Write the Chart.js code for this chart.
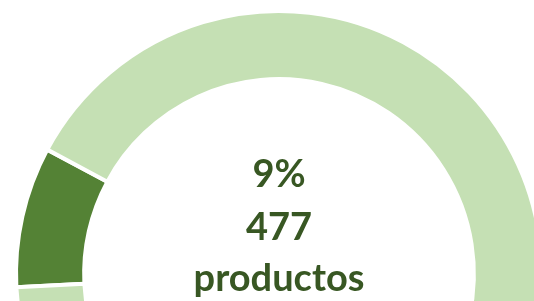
<!DOCTYPE html>
<html>
<head>
<meta charset="utf-8">
<script src="https://cdn.jsdelivr.net/npm/chart.js@4/dist/chart.umd.min.js"></script>
<style>
  html, body { margin: 0; padding: 0; width: 534px; height: 301px; overflow: hidden; background: #ffffff; }
  #wrap { position: absolute; left: -1px; top: -6px; width: 560px; height: 560px; }
</style>
</head>
<body>
<div id="wrap"><canvas id="c" width="560" height="560"></canvas></div>
<script>
const categories = ['Productos', 'Resto'];
const values = [477, 5040];
const colors = ['#548235', '#C5E0B4'];
const centerLines = ['9%', '477', 'productos'];

const centerText = {
  id: 'centerText',
  afterDraw(chart) {
    const meta = chart.getDatasetMeta(0);
    const arc = meta.data[0];
    const cx = arc.x, cy = arc.y;
    const ctx = chart.ctx;
    ctx.save();
    ctx.fillStyle = '#385723';
    ctx.textAlign = 'center';
    ctx.textBaseline = 'alphabetic';
    ctx.font = 'bold 38px Lato, "Open Sans", sans-serif';
    const offs = [-87, -34, 17];
    centerLines.forEach((t, i) => ctx.fillText(t, cx, cy + offs[i]));
    ctx.restore();
  }
};

new Chart(document.getElementById('c'), {
  type: 'doughnut',
  data: {
    labels: categories,
    datasets: [{
      data: values,
      backgroundColor: colors,
      borderColor: '#ffffff',
      borderWidth: 4,
      hoverOffset: 0
    }]
  },
  options: {
    responsive: false,
    devicePixelRatio: 1,
    animation: false,
    rotation: 267.1,
    radius: 263,
    cutout: '74.1%',
    layout: { padding: 0 },
    plugins: { legend: { display: false }, tooltip: { enabled: false } }
  },
  plugins: [centerText]
});
</script>
</body>
</html>
